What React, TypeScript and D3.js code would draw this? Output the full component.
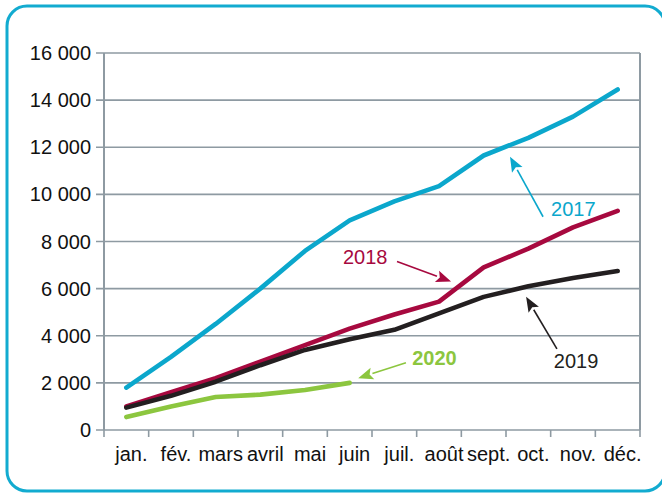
import React, { useEffect, useRef } from 'react';
import * as d3 from 'd3';

const months = ['jan.', 'fév.', 'mars', 'avril', 'mai', 'juin', 'juil.', 'août', 'sept.', 'oct.', 'nov.', 'déc.'];
const yTicks = [0, 2000, 4000, 6000, 8000, 10000, 12000, 14000, 16000];

const values2017 = [1800, 3100, 4500, 6000, 7600, 8900, 9700, 10350, 11650, 12400, 13300, 14450];
const values2018 = [1000, 1600, 2200, 2900, 3600, 4300, 4900, 5450, 6900, 7700, 8600, 9300];
const values2019 = [950, 1450, 2050, 2750, 3400, 3850, 4250, 4950, 5650, 6100, 6450, 6750];
const values2020 = [550, 1000, 1400, 1500, 1700, 2000];

// labels with arrows, positions in month index / value units
const notes = [
  { text: '2017', color: '#0ba7cc', bold: false, at: [9.51, 9090], tail: [9.33, 9050], tip: [8.59, 11600] },
  { text: '2018', color: '#a7093f', bold: false, at: [4.85, 7050], tail: [6.06, 7150], tip: [7.27, 6300] },
  { text: '2019', color: '#231f20', bold: false, at: [9.57, 2630], tail: [9.64, 3440], tip: [8.95, 5650] },
  { text: '2020', color: '#8cc63f', bold: true, at: [6.4, 2760], tail: [6.26, 2850], tip: [5.19, 2200] },
];

const App = () => {
  const chartRef = useRef<HTMLDivElement>(null);

  useEffect(() => {
    const W = 662;
    const H = 493;
    const margin = { top: 53, right: 22, bottom: 63, left: 104 };
    const width = W - margin.left - margin.right;
    const height = H - margin.top - margin.bottom;

    d3.select(chartRef.current).selectAll('*').remove();

    const root = d3
      .select(chartRef.current)
      .append('svg')
      .attr('width', W)
      .attr('height', H)
      .style('font-family', '"Liberation Sans", Arial, sans-serif');

    // outer rounded frame
    root.append('rect')
      .attr('x', 7)
      .attr('y', 6)
      .attr('width', 658)
      .attr('height', 485)
      .attr('rx', 20)
      .attr('fill', 'none')
      .attr('stroke', '#12abd0')
      .attr('stroke-width', 3);

    const svg = root.append('g').attr('transform', `translate(${margin.left}, ${margin.top})`);

    const xScale = d3.scaleBand().domain(months).range([0, width]).padding(0);
    const xIdx = d3.scaleLinear().domain([0, 1]).range([xScale.bandwidth() / 2, xScale.bandwidth() * 1.5]);
    const yScale = d3.scaleLinear().domain([0, 16000]).range([height, 0]);

    const grid = '#8e9aa2';

    // horizontal grid
    svg.selectAll('.grid')
      .data(yTicks)
      .enter()
      .append('line')
      .attr('x1', -8)
      .attr('x2', width)
      .attr('y1', (d) => yScale(d))
      .attr('y2', (d) => yScale(d))
      .attr('stroke', grid)
      .attr('stroke-width', 1.6);

    // vertical sides and x ticks
    const bounds = d3.range(months.length + 1).map((i) => i * xScale.bandwidth());
    svg.selectAll('.xtick')
      .data(bounds)
      .enter()
      .append('line')
      .attr('x1', (d) => d)
      .attr('x2', (d) => d)
      .attr('y1', height)
      .attr('y2', height + 7)
      .attr('stroke', grid)
      .attr('stroke-width', 1.6);
    [0, width].forEach((x) => {
      svg.append('line')
        .attr('x1', x).attr('x2', x)
        .attr('y1', 0).attr('y2', height)
        .attr('stroke', grid)
        .attr('stroke-width', 2);
    });

    // y labels
    svg.selectAll('.ylab')
      .data(yTicks)
      .enter()
      .append('text')
      .attr('x', -13)
      .attr('y', (d) => yScale(d))
      .attr('dy', '0.35em')
      .attr('text-anchor', 'end')
      .attr('font-size', 20)
      .attr('fill', '#111')
      .text((d) => (d >= 1000 ? `${d / 1000} 000` : `${d}`));

    // x labels
    svg.selectAll('.xlab')
      .data(months)
      .enter()
      .append('text')
      .attr('x', (d) => (xScale(d) as number) + xScale.bandwidth() / 2 + 5)
      .attr('y', height + 31)
      .attr('text-anchor', 'middle')
      .attr('font-size', 20)
      .attr('fill', '#111')
      .text((d) => d);

    const line = d3
      .line<number>()
      .x((d, i) => xIdx(i))
      .y((d) => yScale(d));

    const series = [
      { values: values2017, color: '#0ba7cc' },
      { values: values2018, color: '#a7093f' },
      { values: values2019, color: '#231f20' },
      { values: values2020, color: '#8cc63f' },
    ];

    series.forEach((s) => {
      svg.append('path')
        .datum(s.values)
        .attr('d', line)
        .attr('fill', 'none')
        .attr('stroke', s.color)
        .attr('stroke-width', 4.6)
        .attr('stroke-linecap', 'round')
        .attr('stroke-linejoin', 'round');
    });

    // annotations
    notes.forEach((n) => {
      const tx = xIdx(n.tail[0]);
      const ty = yScale(n.tail[1]);
      const px = xIdx(n.tip[0]);
      const py = yScale(n.tip[1]);
      const ang = Math.atan2(py - ty, px - tx);
      const len = 15;
      const hw = 6;
      const bx = px - len * Math.cos(ang);
      const by = py - len * Math.sin(ang);

      svg.append('line')
        .attr('x1', tx).attr('y1', ty)
        .attr('x2', bx).attr('y2', by)
        .attr('stroke', n.color)
        .attr('stroke-width', 1.6);

      const head = [
        [px, py],
        [bx + hw * Math.sin(ang), by - hw * Math.cos(ang)],
        [bx + 3 * Math.cos(ang), by + 3 * Math.sin(ang)],
        [bx - hw * Math.sin(ang), by + hw * Math.cos(ang)],
      ];
      svg.append('polygon')
        .attr('points', head.map((p) => p.join(',')).join(' '))
        .attr('fill', n.color);

      svg.append('text')
        .attr('x', xIdx(n.at[0]))
        .attr('y', yScale(n.at[1]))
        .attr('font-size', 20)
        .attr('font-weight', n.bold ? 'bold' : 'normal')
        .attr('fill', n.color)
        .text(n.text);
    });
  }, []);

  return <div ref={chartRef} style={{ position: 'absolute', left: 0, top: 0 }} />;
};

export default App;
